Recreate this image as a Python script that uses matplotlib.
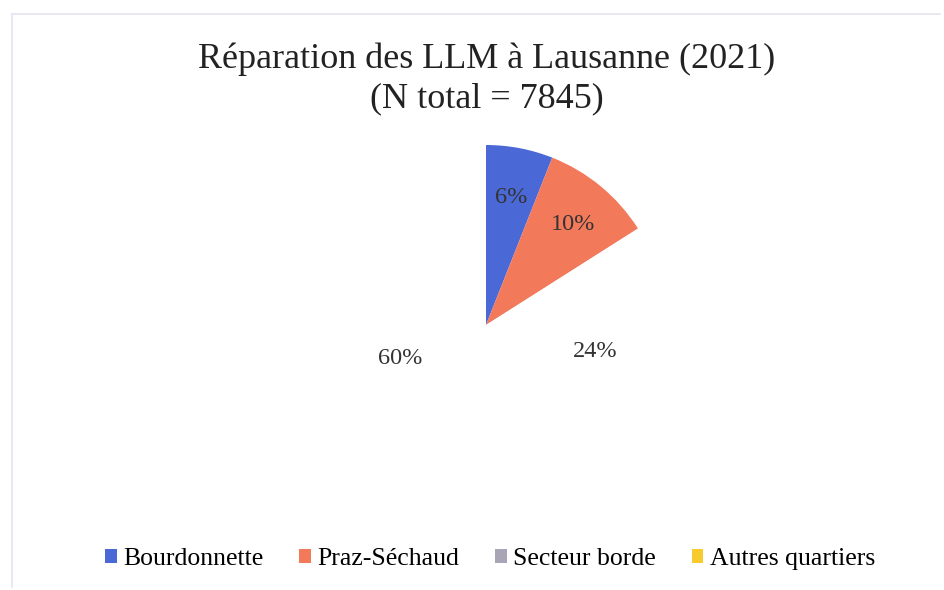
import matplotlib
matplotlib.use('Agg')
import matplotlib.pyplot as plt
from matplotlib.patches import Patch
from matplotlib.lines import Line2D
import numpy as np

plt.rcParams['font.family'] = ['Liberation Serif', 'DejaVu Serif']

categories = ['Bourdonnette', 'Praz-Séchaud', 'Secteur borde', 'Autres quartiers']
shares = [6, 10, 24, 60]
colors = ['#4a69d6', '#f2795a', '#a9a5b6', '#f7cb2e']
# only the first two slices show in the scan; the others print as white
fills = ['#4a69d6', '#f2795a', 'white', 'white']
label_dist = [0.75, 0.76, 0.62, 0.50]

fig = plt.figure(figsize=(9.45, 5.9), dpi=100)

# faint frame of the scanned chart
fig.add_artist(Line2D([12/945, 940/945], [1 - 14/590, 1 - 14/590], color='#e4e4f0', lw=1.2))
fig.add_artist(Line2D([12/945, 12/945], [1 - 14/590, 3/590], color='#e4e4f0', lw=1.2))

fig.text(487/945, 1 - 79/590, 'Réparation des LLM à Lausanne (2021)\n(N total = 7845)',
         ha='center', va='center', fontsize=26, color='#222222', linespacing=1.28)

cx, cy, r = 486, 590 - 325, 180
ax = fig.add_axes([(cx - r)/945, (cy - r)/590, 2*r/945, 2*r/590])
wedges, _ = ax.pie(shares, colors=fills, startangle=90, counterclock=False, radius=1)
ax.set_xlim(-1, 1)
ax.set_ylim(-1, 1)
ax.set_aspect('auto')
ax.axis('off')

for w, s, d in zip(wedges, shares, label_dist):
    mid = np.deg2rad((w.theta1 + w.theta2) / 2)
    ax.text(d*np.cos(mid), d*np.sin(mid) - 0.03, f'{s}%', ha='center', va='center',
            fontsize=17.5, color='#333333')

handles = [Patch(facecolor=c, edgecolor='none') for c in colors]
fig.legend(handles, categories, loc='center', bbox_to_anchor=(490/945, 1 - 559/590),
           ncol=4, frameon=False, fontsize=18.5, handlelength=0.45, handleheight=0.45,
           handletextpad=0.25, columnspacing=1.4)

fig.savefig('out.png', dpi=100, facecolor='white')
